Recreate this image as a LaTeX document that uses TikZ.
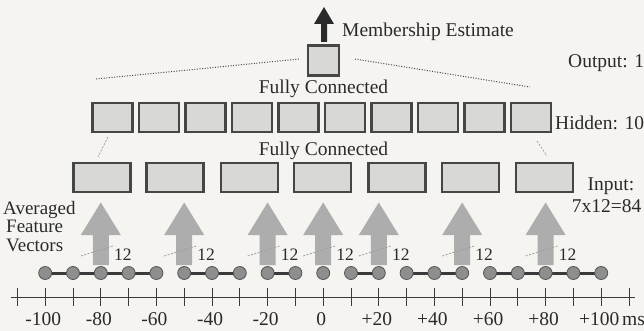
\documentclass[tikz,border=0pt]{standalone}
\usepackage{fontspec}
\setmainfont{Liberation Serif}
\definecolor{bgcol}{HTML}{F5F4F1}
\definecolor{boxfill}{HTML}{D8D8D6}
\definecolor{boxedge}{HTML}{464646}
\definecolor{arrfill}{HTML}{ADADAD}
\definecolor{dotfill}{HTML}{8E8E8E}
\definecolor{dotedge}{HTML}{555555}
\definecolor{linkcol}{HTML}{3A3A3A}
\definecolor{txtcol}{HTML}{2A2A2A}
\tikzset{
  inbox/.style={draw=boxedge, line width=2.2pt, fill=boxfill, inner sep=0pt, minimum width=57pt, minimum height=29pt},
  hidbox/.style={inbox, minimum width=40pt},
  outbox/.style={inbox, minimum width=31pt, minimum height=30pt},
  tdot/.style={circle, fill=dotfill, draw=dotedge, line width=0.8pt, minimum size=13pt, inner sep=0pt},
  link/.style={draw=linkcol, line width=3pt},
  lbl/.style={font=\fontsize{19.5}{23}\selectfont, text=txtcol, inner sep=0pt},
  tight/.style={font=\fontsize{19}{22}\selectfont, text=txtcol, inner sep=0pt, text height=12pt, text depth=3pt},
  small/.style={font=\fontsize{17.5}{21}\selectfont, text=txtcol, inner sep=0pt},
  fan/.style={draw=gray!55!black, line width=1pt, dash pattern=on 1pt off 1.6pt},
  busmark/.style={draw=gray!75, line width=0.8pt, dash pattern=on 2pt off 1.5pt},
  blockarrow/.style={fill=arrfill, draw=none},
  tickline/.style={draw=linkcol, line width=1pt},
}
\begin{document}
\begin{tikzpicture}[x=1pt,y=-1pt]
\fill[bgcol] (0,0) rectangle (644,331);
\useasboundingbox (0,0) rectangle (644,331);

% axis
\coordinate (axL) at (11,297);
\coordinate (axR) at (635,297);
\draw[tickline] (axL) -- (axR);
\foreach \i in {-1,...,21} {
  \draw[tickline] ({45.2+27.8*\i},288) -- ({45.2+27.8*\i},306);
}
\foreach \v [count=\k from 0] in {-100,-80,-60,-40,-20,0,+20,+40,+60,+80,+100} {
  \node[lbl, anchor=base] (t\k) at ({45.2+55.6*\k-2},325) {\v};
}
\node[lbl, anchor=base west] (ms) at (622,325) {ms};

% time dots
\foreach \i in {0,...,20} {
  \coordinate (c\i) at ({45.2+27.8*\i},273);
}
\foreach \a/\b in {0/4,5/7,8/9,11/12,13/15,16/20} {
  \draw[link] (c\a) -- (c\b);
}
\foreach \i in {0,...,20} {
  \node[tdot] (d\i) at (c\i) {};
}

% input boxes
\foreach \x [count=\k] in {102,175,249.5,322.5,397,470.5,544.5} {
  \node[inbox] (in\k) at (\x,177.5) {};
}

% block arrows with bus width
\foreach \i [count=\k] in {2,5,8,10,12,15,18} {
  \pgfmathsetmacro{\ax}{45.2+27.8*\i}
  \fill[blockarrow] (\ax-8,265) -- (\ax-8,235) -- (\ax-20,235) -- (\ax,202.5)
        -- (\ax+20,235) -- (\ax+8,235) -- (\ax+8,265) -- cycle;
  \draw[busmark] (\ax-20,256) -- (\ax+12,246);
  \node[small, anchor=base] (n\k) at (\ax+22,260) {12};
}

% hidden layer
\foreach \k in {1,...,10} {
  \node[hidbox] (h\k) at ({112.5+46.5*(\k-1)},117.5) {};
}
\node[lbl, anchor=base] (fc2) at (323.5,156) {Fully Connected};
\coordinate (lA) at (108,137);
\coordinate (lB) at (98,157);
\coordinate (rA) at (537,141);
\coordinate (rB) at (547,156);
\draw[busmark] (lA) -- (lB);
\draw[busmark] (rA) -- (rB);

% output
\node[outbox] (out) at (323.5,60.5) {};
\node[lbl, anchor=base] (fc1) at (323.5,94) {Fully Connected};
\coordinate (fl1) at (96,79);
\coordinate (fl2) at (300,59);
\coordinate (fr1) at (355,59);
\coordinate (fr2) at (530,87);
\draw[fan] (fl1) -- (fl2);
\draw[fan] (fr1) -- (fr2);

% membership estimate arrow
\coordinate (mtip) at (324,7);
\fill[txtcol] (321,42) -- (321,24) -- (314,24) -- (mtip) -- (334,24) -- (327,24) -- (327,42) -- cycle;
\node[lbl, anchor=base west] (mem) at (342,37) {Membership Estimate};

% side labels
\node[lbl, anchor=base west] (olab) at (568,68) {Output: 1};
\node[lbl, anchor=base west] (hlab) at (555,130) {Hidden: 10};
\node[lbl, anchor=base] (ilab1) at (611,190) {Input:};
\node[lbl, anchor=base] (ilab2) at (606.5,212) {7x12=84};
\node[tight, anchor=base west] (av1) at (3,214) {Averaged};
\node[tight, anchor=base west] (av2) at (6,232.5) {Feature};
\node[tight, anchor=base west] (av3) at (6,251) {Vectors};
\end{tikzpicture}
\end{document}
